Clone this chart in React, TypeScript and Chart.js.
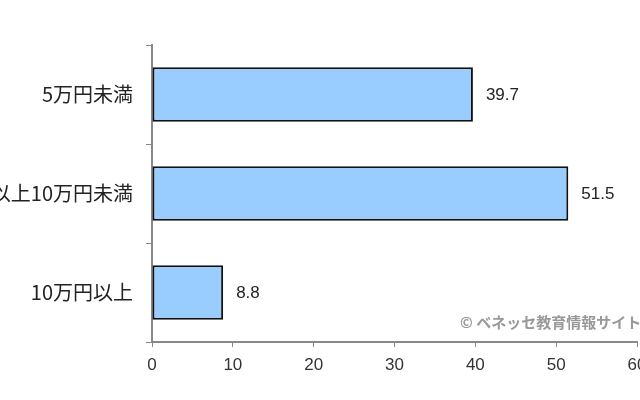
import { useEffect, useRef } from 'react';
import { Chart, registerables } from 'chart.js';

Chart.register(...registerables);

const categories = ['5万円未満', '5万円以上10万円未満', '10万円以上'];
const shares = [39.7, 51.5, 8.8];
const xTicks = [0, 10, 20, 30, 40, 50, 60];
const watermark = '© ベネッセ教育情報サイト';

const JP_FONT = '"Noto Sans CJK JP", "Noto Sans", sans-serif';
const NUM_FONT = '"Liberation Sans", Arial, sans-serif';

// value labels to the right of each bar
const valueLabels = {
  id: 'valueLabels',
  afterDatasetsDraw(chart: Chart) {
    const { ctx } = chart;
    const meta = chart.getDatasetMeta(0);
    ctx.save();
    ctx.font = `17px ${NUM_FONT}`;
    ctx.fillStyle = '#222';
    ctx.textAlign = 'left';
    ctx.textBaseline = 'middle';
    meta.data.forEach((bar: any, i: number) => {
      ctx.fillText(shares[i].toFixed(1), bar.x + 13, bar.y + 1);
    });
    ctx.restore();
  },
};

export default function App() {
  const canvasRef = useRef<HTMLCanvasElement | null>(null);

  useEffect(() => {
    document.body.style.margin = '0';
    if (!canvasRef.current) return;
    const chart = new Chart(canvasRef.current, {
      type: 'bar',
      data: {
        labels: categories,
        datasets: [
          {
            data: shares,
            backgroundColor: '#99ccff',
            borderColor: '#111',
            borderWidth: 2,
            borderSkipped: false,
            barPercentage: 0.55,
            categoryPercentage: 1,
          },
        ],
      },
      options: {
        indexAxis: 'y',
        animation: false,
        responsive: false,
        devicePixelRatio: 1,
        layout: { padding: { top: 45, right: 3, left: 0, bottom: 0 } },
        scales: {
          x: {
            min: 0,
            max: 60,
            afterBuildTicks: (scale: any) => {
              scale.ticks = xTicks.map((v) => ({ value: v }));
            },
            afterFit: (scale: any) => {
              scale.height = 58;
              scale.paddingLeft = 0;
              scale.paddingRight = 0;
            },
            ticks: {
              color: '#333',
              padding: 8,
              maxRotation: 0,
              autoSkip: false,
              font: { size: 17, family: NUM_FONT },
            },
            grid: {
              drawOnChartArea: false,
              drawTicks: true,
              tickLength: 5,
              color: '#888',
            },
            border: { color: '#888', width: 2 },
          },
          y: {
            afterFit: (scale: any) => {
              scale.width = 152;
            },
            ticks: {
              color: '#222',
              padding: 13,
              autoSkip: false,
              font: { size: 20, family: JP_FONT },
            },
            grid: {
              offset: true,
              drawOnChartArea: false,
              drawTicks: true,
              tickLength: 6,
              color: '#888',
            },
            border: { color: '#888', width: 2 },
          },
        },
        plugins: {
          legend: { display: false },
          tooltip: { enabled: false },
        },
      },
      plugins: [valueLabels],
    });
    return () => chart.destroy();
  }, []);

  return (
    <div style={{ position: 'relative', width: 640, height: 400, background: '#fff', overflow: 'hidden' }}>
      <canvas ref={canvasRef} width={640} height={400} />
      <div
        style={{
          position: 'absolute',
          left: 460,
          top: 311,
          whiteSpace: 'nowrap',
          fontFamily: JP_FONT,
          fontSize: 15,
          fontWeight: 'bold',
          color: '#999',
        }}
      >
        {watermark}
      </div>
    </div>
  );
}
